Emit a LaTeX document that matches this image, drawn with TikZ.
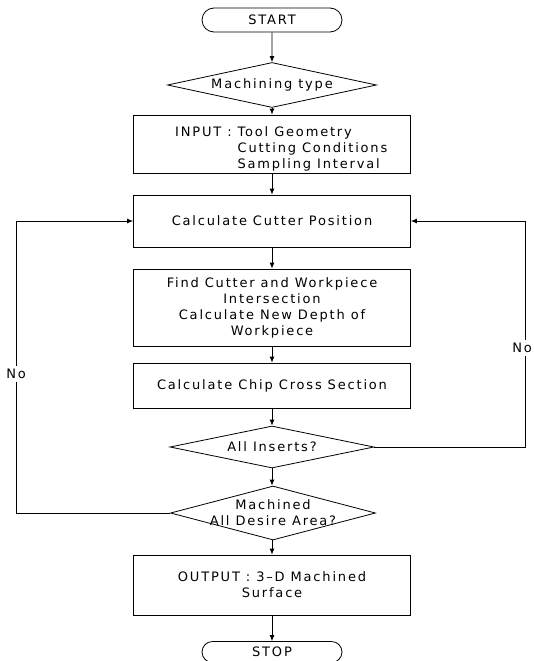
\documentclass[tikz,border=0pt]{standalone}
\usepackage{fontspec}
\setmainfont{DejaVu Sans}[LetterSpace=14]
\usetikzlibrary{shapes.geometric,shapes.misc,arrows.meta}
\tikzset{
  ln/.style={line width=0.8pt, draw=black},
  txt/.style={font=\fontsize{13}{16}\selectfont, align=center, inner sep=0pt},
  boxnode/.style={ln, rectangle, minimum width=277pt, inner sep=0pt, txt},
  termnode/.style={ln, rounded rectangle, minimum width=140pt, inner sep=0pt, txt},
  decnode/.style={ln, diamond, inner sep=0pt},
  arr/.style={ln, -{Latex[length=6pt,width=5pt]}},
  nolabel/.style={txt, inner sep=3pt}
}
\begin{document}
\begin{tikzpicture}[x=1pt,y=-1pt]
\useasboundingbox (0,0) rectangle (534,661);

\node[termnode, minimum height=24pt] (start) at (272,20) {START};
\node[decnode, minimum width=209pt, minimum height=45pt] (d1) at (272,85) {};
\node[txt] (d1t) at (d1) {Machining type};

\node[boxnode, minimum height=58pt] (input) at (272,144) {};
\node[txt, anchor=west, align=left] (inputt) at (175,149.5) {%
  \begin{tabular}{@{}l@{\ }l@{}}INPUT :&Tool Geometry\\ &Cutting Conditions\\ &Sampling Interval\end{tabular}};

\node[boxnode, minimum height=52pt] (calc) at (272,221) {Calculate Cutter Position};
\node[boxnode, minimum height=77pt] (find) at (272,307.5) {Find Cutter and Workpiece\\Intersection\\Calculate New Depth of\\Workpiece};
\node[boxnode, minimum height=45pt] (chip) at (272,385.5) {Calculate Chip Cross Section};

\node[decnode, minimum width=204pt, minimum height=42pt] (d2) at (272,447) {};
\node[txt] (d2t) at (d2) {All Inserts?};

\node[decnode, minimum width=205pt, minimum height=54pt] (d3) at (273,513) {};
\node[txt] (d3t) at (273,513) {Machined\\All Desire Area?};

\node[boxnode, minimum height=60pt] (output) at (272,585) {OUTPUT : 3–D Machined\\Surface};
\node[termnode, minimum height=21pt] (stop) at (272,652) {STOP};

\draw[arr] (start) -- (d1);
\draw[arr] (d1) -- (input);
\draw[arr] (input) -- (calc);
\draw[arr] (calc) -- (find);
\draw[arr] (find) -- (chip);
\draw[arr] (chip) -- (d2);
\draw[arr] (d2.south) -- (d2.south |- d3.north);
\draw[arr] (d3.south -| output.north) -- (output.north);
\draw[arr] (output) -- (stop);

\node[nolabel] (noL) at (16,374) {No};
\node[nolabel] (noR) at (522,348) {No};
\coordinate (xR) at (525,0);

\draw[ln] (d3.west) -| (noL.south);
\draw[arr] (noL.north) |- (calc.west);
\draw[ln] (d2.east) -| (noR.south -| xR);
\draw[arr] (noR.north -| xR) |- (calc.east);
\end{tikzpicture}
\end{document}
